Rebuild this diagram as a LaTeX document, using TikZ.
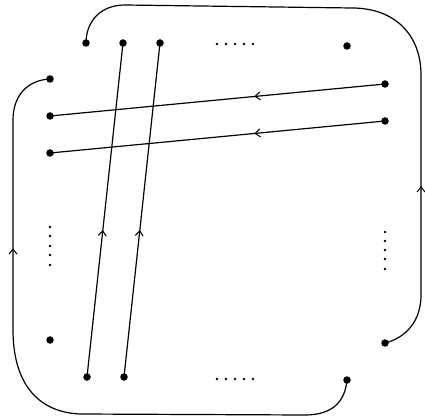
\documentclass[tikz,border=0pt]{standalone}
\usetikzlibrary{arrows.meta,decorations.markings}
\tikzset{
  pt/.style={circle,fill=black,inner sep=0pt,minimum size=7.5pt},
  sm/.style={circle,fill=black,inner sep=0pt,minimum size=2.6pt},
  wire/.style={line width=1.2pt},
  midarrow/.style={postaction={decorate,decoration={markings,
     mark=at position #1 with {\arrow{Straight Barb[length=5pt,width=8pt,line width=1pt]}}}}}
}
\begin{document}
\begin{tikzpicture}[x=1pt,y=-1pt]
\useasboundingbox (0,0) rectangle (425,419);
% top row
\node[pt] (t1) at (86,43) {};
\node[pt] (t2) at (123,43) {};
\node[pt] (t3) at (160,43) {};
\node[pt] (t4) at (347,46) {};
\foreach \i/\x in {1/217,2/226,3/235,4/244,5/253} \node[sm] (td\i) at (\x,44) {};
% left column
\node[pt] (l1) at (50,79) {};
\node[pt] (l2) at (50,116) {};
\node[pt] (l3) at (50,153) {};
\node[pt] (l4) at (50,340) {};
\foreach \i/\y in {1/227,2/236,3/246,4/255,5/265} \node[sm] (ld\i) at (50,\y) {};
% bottom row
\node[pt] (b1) at (87,377) {};
\node[pt] (b2) at (124,377) {};
\node[pt] (b3) at (347,380) {};
\foreach \i/\x in {1/217,2/226,3/235,4/244,5/253} \node[sm] (bd\i) at (\x,379) {};
% right column
\node[pt] (r1) at (385,84) {};
\node[pt] (r2) at (385,121) {};
\node[pt] (r3) at (385,343) {};
\foreach \i/\y in {1/232,2/241,3/250,4/259,5/269} \node[sm] (rd\i) at (385,\y) {};
% straight connectors
\draw[wire,midarrow=0.39] (r1.center) -- (l2.center);
\draw[wire,midarrow=0.39] (r2.center) -- (l3.center);
\draw[wire,midarrow=0.44] (b1.center) -- (t2.center);
\draw[wire,midarrow=0.44] (b2.center) -- (t3.center);
% outer curves
\draw[wire,midarrow=0.255] (r3.center) .. controls (405,338) and (421,322) .. (421,295)
  -- (421,75) .. controls (421,35) and (395,8) .. (352,8)
  -- (125,5) .. controls (100,5) and (86,22) .. (t1.center);
\draw[wire,midarrow=0.72] (b3.center) .. controls (345,402) and (332,415) .. (305,415)
  -- (80,414) .. controls (35,412) and (13,380) .. (13,330)
  -- (13,120) .. controls (13,95) and (28,80) .. (l1.center);
\end{tikzpicture}
\end{document}
